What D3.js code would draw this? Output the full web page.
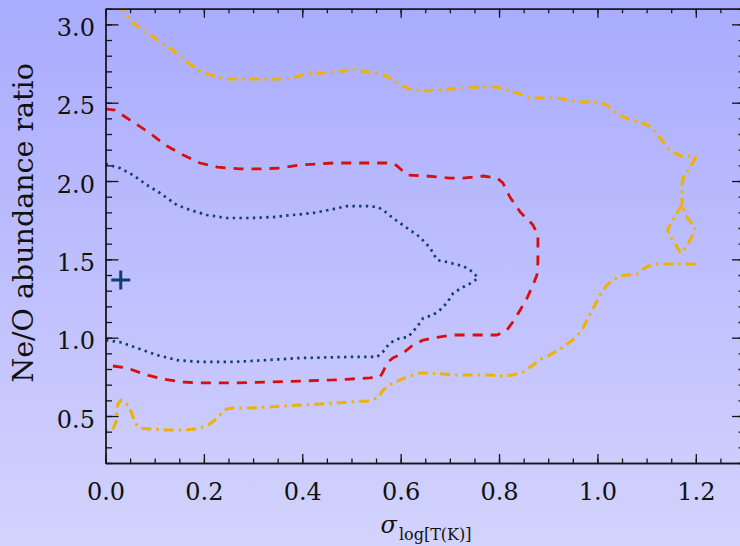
<!DOCTYPE html>
<html>
<head>
<meta charset="utf-8">
<script src="https://cdn.jsdelivr.net/npm/d3@7"></script>
<style>
  html, body { margin: 0; padding: 0; background: #c0c1fd; }
  svg { display: block; }
</style>
</head>
<body>
<svg id="svgc" width="740" height="546"></svg>
<script>
/*global d3 */
"use strict";

//contour levels, [sigma, Ne/O]
var innerContour = [
    [0.000,2.109],[0.029,2.083],[0.056,2.038],[0.084,1.975],[0.111,1.923],
    [0.145,1.847],[0.172,1.815],[0.206,1.783],[0.247,1.764],[0.294,1.764],
    [0.340,1.770],[0.381,1.783],[0.422,1.796],[0.463,1.821],[0.491,1.840],
    [0.532,1.840],[0.554,1.834],[0.572,1.796],[0.584,1.764],[0.613,1.700],
    [0.639,1.643],[0.660,1.572],[0.674,1.496],[0.694,1.483],[0.727,1.457],
    [0.747,1.419],[0.757,1.381],[0.747,1.355],[0.727,1.323],[0.707,1.285],
    [0.694,1.221],[0.680,1.177],[0.666,1.145],[0.646,1.126],[0.633,1.068],
    [0.615,1.004],[0.599,0.998],[0.578,0.966],[0.564,0.909],[0.552,0.877],
    [0.497,0.877],[0.395,0.870],[0.328,0.857],[0.260,0.845],[0.192,0.845],
    [0.145,0.857],[0.105,0.889],[0.064,0.934],[0.029,0.972],[0.000,0.985]];

var middleContour = [
    [0.000,2.460],[0.019,2.453],[0.050,2.389],[0.090,2.306],[0.125,2.223],
    [0.158,2.166],[0.192,2.115],[0.227,2.089],[0.273,2.077],[0.314,2.077],
    [0.355,2.083],[0.395,2.102],[0.463,2.115],[0.544,2.115],[0.584,2.115],
    [0.593,2.096],[0.613,2.038],[0.653,2.032],[0.700,2.019],[0.727,2.019],
    [0.768,2.032],[0.796,2.019],[0.808,1.987],[0.822,1.898],[0.843,1.802],
    [0.869,1.719],[0.879,1.655],[0.879,1.483],[0.877,1.400],[0.869,1.336],
    [0.857,1.253],[0.843,1.177],[0.828,1.100],[0.816,1.049],[0.796,1.017],
    [0.782,1.017],[0.707,1.017],[0.666,0.998],[0.646,0.985],[0.625,0.953],
    [0.605,0.902],[0.584,0.870],[0.572,0.838],[0.564,0.781],[0.558,0.749],
    [0.537,0.743],[0.497,0.736],[0.463,0.730],[0.395,0.723],[0.328,0.717],
    [0.260,0.711],[0.192,0.711],[0.158,0.717],[0.117,0.736],[0.084,0.762],
    [0.044,0.806],[0.000,0.826]];

var outerContourTop = [
    [0.029,3.136],[0.034,3.098],[0.040,3.066],[0.056,3.009],[0.070,2.977],
    [0.091,2.932],[0.111,2.887],[0.131,2.849],[0.151,2.798],[0.172,2.747],
    [0.186,2.709],[0.203,2.689],[0.227,2.664],[0.247,2.651],[0.308,2.651],
    [0.369,2.651],[0.381,2.657],[0.399,2.677],[0.422,2.689],[0.442,2.689],
    [0.462,2.696],[0.483,2.702],[0.503,2.715],[0.523,2.702],[0.544,2.689],
    [0.572,2.670],[0.584,2.645],[0.599,2.613],[0.619,2.587],[0.645,2.574],
    [0.674,2.581],[0.700,2.587],[0.727,2.594],[0.755,2.600],[0.796,2.600],
    [0.808,2.587],[0.822,2.574],[0.843,2.555],[0.863,2.530],[0.889,2.530],
    [0.918,2.530],[0.930,2.523],[0.950,2.511],[0.971,2.504],[0.999,2.504],
    [1.019,2.485],[1.031,2.453],[1.052,2.409],[1.082,2.377],[1.097,2.364],
    [1.109,2.345],[1.121,2.306],[1.135,2.243],[1.147,2.198],[1.157,2.179],
    [1.170,2.160],[1.184,2.160],[1.200,2.153],[1.192,2.109],[1.184,2.070],
    [1.176,2.032],[1.172,1.987],[1.172,1.898],[1.172,1.847]];

var outerContourLoop = [
    [1.172,1.847],[1.163,1.802],[1.151,1.738],[1.143,1.694],[1.145,1.662],
    [1.153,1.623],[1.163,1.572],[1.169,1.540],[1.178,1.572],[1.186,1.611],
    [1.192,1.643],[1.198,1.700],[1.182,1.770],[1.176,1.815],[1.172,1.847]];

var outerContourBottom = [
    [1.200,1.470],[1.162,1.470],[1.141,1.470],[1.117,1.470],[1.103,1.457],
    [1.093,1.438],[1.080,1.406],[1.060,1.400],[1.046,1.394],[1.019,1.336],
    [1.005,1.272],[0.995,1.209],[0.981,1.126],[0.971,1.062],[0.960,1.017],
    [0.950,0.985],[0.930,0.940],[0.903,0.889],[0.889,0.870],[0.869,0.826],
    [0.849,0.781],[0.828,0.762],[0.808,0.755],[0.782,0.762],[0.747,0.762],
    [0.714,0.762],[0.686,0.768],[0.660,0.774],[0.639,0.774],[0.613,0.749],
    [0.584,0.711],[0.564,0.666],[0.554,0.615],[0.532,0.596],[0.497,0.589],
    [0.437,0.577],[0.395,0.570],[0.328,0.557],[0.294,0.551],[0.260,0.551],
    [0.246,0.545],[0.232,0.506],[0.222,0.474],[0.212,0.449],[0.198,0.430],
    [0.186,0.417],[0.158,0.411],[0.125,0.411],[0.090,0.417],[0.070,0.423],
    [0.062,0.449],[0.056,0.494],[0.050,0.545],[0.042,0.583],[0.032,0.602],
    [0.025,0.577],[0.023,0.538],[0.023,0.474],[0.015,0.417],[0.000,0.411]];

var bestFit = [0.031, 1.368];

var xMajorTicks = [0.0, 0.2, 0.4, 0.6, 0.8, 1.0, 1.2];
var yMajorTicks = [0.5, 1.0, 1.5, 2.0, 2.5, 3.0];
var xDomain = [0, 1.3];
var yDomain = [0.2, 3.1];


var chart = {};


function initGeometry () {
    chart.svg = d3.select("#svgc");
    chart.w = 740;
    chart.h = 546;
    chart.left = 105.5;
    chart.right = 745;    //right frame sits just past the window edge
    chart.top = 8.7;
    chart.bottom = 463;
    chart.x = d3.scaleLinear().domain(xDomain)
        .range([chart.left, chart.right]);
    chart.y = d3.scaleLinear().domain(yDomain)
        .range([chart.bottom, chart.top]);
    chart.font = "DejaVu Serif";
}


function appendBackground () {
    var grad = chart.svg.append("defs").append("linearGradient")
        .attr("id", "bggrad")
        .attr("x1", 0).attr("y1", 0).attr("x2", 0).attr("y2", 1);
    grad.append("stop").attr("offset", "0%").attr("stop-color", "#a9abfe");
    grad.append("stop").attr("offset", "100%").attr("stop-color", "#d3d3fd");
    chart.svg.select("defs").append("clipPath")
        .attr("id", "plotclip")
        .append("rect")
        .attr("x", chart.left)
        .attr("y", chart.top)
        .attr("width", chart.right - chart.left)
        .attr("height", chart.bottom - chart.top);
    chart.svg.append("rect")
        .attr("width", chart.w)
        .attr("height", chart.h)
        .attr("fill", "url(#bggrad)");
}


function minorTicks (domain, step) {
    //every step inside the domain, majors included (drawn over anyway)
    var vals = [], v;
    for(v = Math.ceil(domain[0] / step); v * step <= domain[1] + 1e-9; v += 1) {
        vals.push(+(v * step).toFixed(3)); }
    return vals;
}


function styleAxis (g) {
    g.selectAll("path, line")
        .attr("stroke", "#151515")
        .attr("stroke-width", 1.3);
    g.selectAll("text")
        .attr("fill", "#111")
        .attr("font-family", chart.font)
        .attr("font-size", 24);
}


function appendAxes () {
    var fmt = d3.format(".1f"), g;
    //minor ticks, all four sides
    g = chart.svg.append("g").attr("transform", "translate(0," + chart.bottom + ")")
        .call(d3.axisBottom(chart.x).tickValues(minorTicks(xDomain, 0.05))
              .tickFormat("").tickSizeInner(-4.5).tickSizeOuter(0));
    styleAxis(g);
    g = chart.svg.append("g").attr("transform", "translate(0," + chart.top + ")")
        .call(d3.axisTop(chart.x).tickValues(minorTicks(xDomain, 0.05))
              .tickFormat("").tickSizeInner(-4.5).tickSizeOuter(0));
    styleAxis(g);
    g = chart.svg.append("g").attr("transform", "translate(" + chart.left + ",0)")
        .call(d3.axisLeft(chart.y).tickValues(minorTicks(yDomain, 0.1))
              .tickFormat("").tickSizeInner(-6.5).tickSizeOuter(0));
    styleAxis(g);
    g = chart.svg.append("g").attr("transform", "translate(" + chart.right + ",0)")
        .call(d3.axisRight(chart.y).tickValues(minorTicks(yDomain, 0.1))
              .tickFormat("").tickSizeInner(-6.5).tickSizeOuter(0));
    styleAxis(g);
    //major ticks with labels on bottom and left
    g = chart.svg.append("g").attr("transform", "translate(0," + chart.bottom + ")")
        .call(d3.axisBottom(chart.x).tickValues(xMajorTicks).tickFormat(fmt)
              .tickSizeInner(-9).tickSizeOuter(0).tickPadding(20));
    styleAxis(g);
    g = chart.svg.append("g").attr("transform", "translate(0," + chart.top + ")")
        .call(d3.axisTop(chart.x).tickValues(xMajorTicks).tickFormat("")
              .tickSizeInner(-9).tickSizeOuter(0));
    styleAxis(g);
    g = chart.svg.append("g").attr("transform", "translate(" + chart.left + ",0)")
        .call(d3.axisLeft(chart.y).tickValues(yMajorTicks).tickFormat(fmt)
              .tickSizeInner(-13).tickSizeOuter(0).tickPadding(10.5));
    styleAxis(g);
    g.selectAll("text").attr("dy", "0.46em");
    g = chart.svg.append("g").attr("transform", "translate(" + chart.right + ",0)")
        .call(d3.axisRight(chart.y).tickValues(yMajorTicks).tickFormat("")
              .tickSizeInner(-13).tickSizeOuter(0));
    styleAxis(g);
}


function appendContour (pts, color, width, dashes) {
    var line = d3.line()
        .x(function (d) { return chart.x(d[0]); })
        .y(function (d) { return chart.y(d[1]); });
    chart.cg.append("path")
        .datum(pts)
        .attr("d", line)
        .attr("fill", "none")
        .attr("stroke", color)
        .attr("stroke-width", width)
        .attr("stroke-dasharray", dashes)
        .attr("stroke-linejoin", "round");
}


function appendContours () {
    chart.cg = chart.svg.append("g").attr("clip-path", "url(#plotclip)");
    appendContour(outerContourTop, "#f2b000", 3, "10,5,2.5,5");
    appendContour(outerContourLoop, "#f2b000", 3, "10,5,2.5,5");
    appendContour(outerContourBottom, "#f2b000", 3, "10,5,2.5,5");
    appendContour(middleContour, "#d80d0d", 2.8, "10,8");
    appendContour(innerContour, "#123e6b", 2.7, "2.4,4.3");
    //best fit marker
    chart.cg.append("path")
        .attr("d", "M-9.5,0H9.5M0,-9.5V9.5")
        .attr("transform", "translate(" + chart.x(bestFit[0]) + "," +
              chart.y(bestFit[1]) + ")")
        .attr("stroke", "#0f3d6a")
        .attr("stroke-width", 3)
        .attr("fill", "none");
}


function appendAxisTitles () {
    var xt;
    chart.svg.append("text")
        .attr("transform", "translate(33," + 223 + ") rotate(-90)")
        .attr("text-anchor", "middle")
        .attr("font-family", chart.font)
        .attr("font-size", 28.5)
        .attr("fill", "#111")
        .text("Ne/O abundance ratio");
    xt = chart.svg.append("text")
        .attr("x", 426)
        .attr("y", 533)
        .attr("text-anchor", "middle")
        .attr("font-family", chart.font)
        .attr("fill", "#111");
    xt.append("tspan")
        .attr("font-size", 24)
        .attr("font-style", "italic")
        .text("\u03c3");
    xt.append("tspan")
        .attr("font-size", 16)
        .attr("dx", 2)
        .attr("dy", 7)
        .text("log[T(K)]");
}


initGeometry();
appendBackground();
appendContours();
appendAxes();
appendAxisTitles();
</script>
</body>
</html>
